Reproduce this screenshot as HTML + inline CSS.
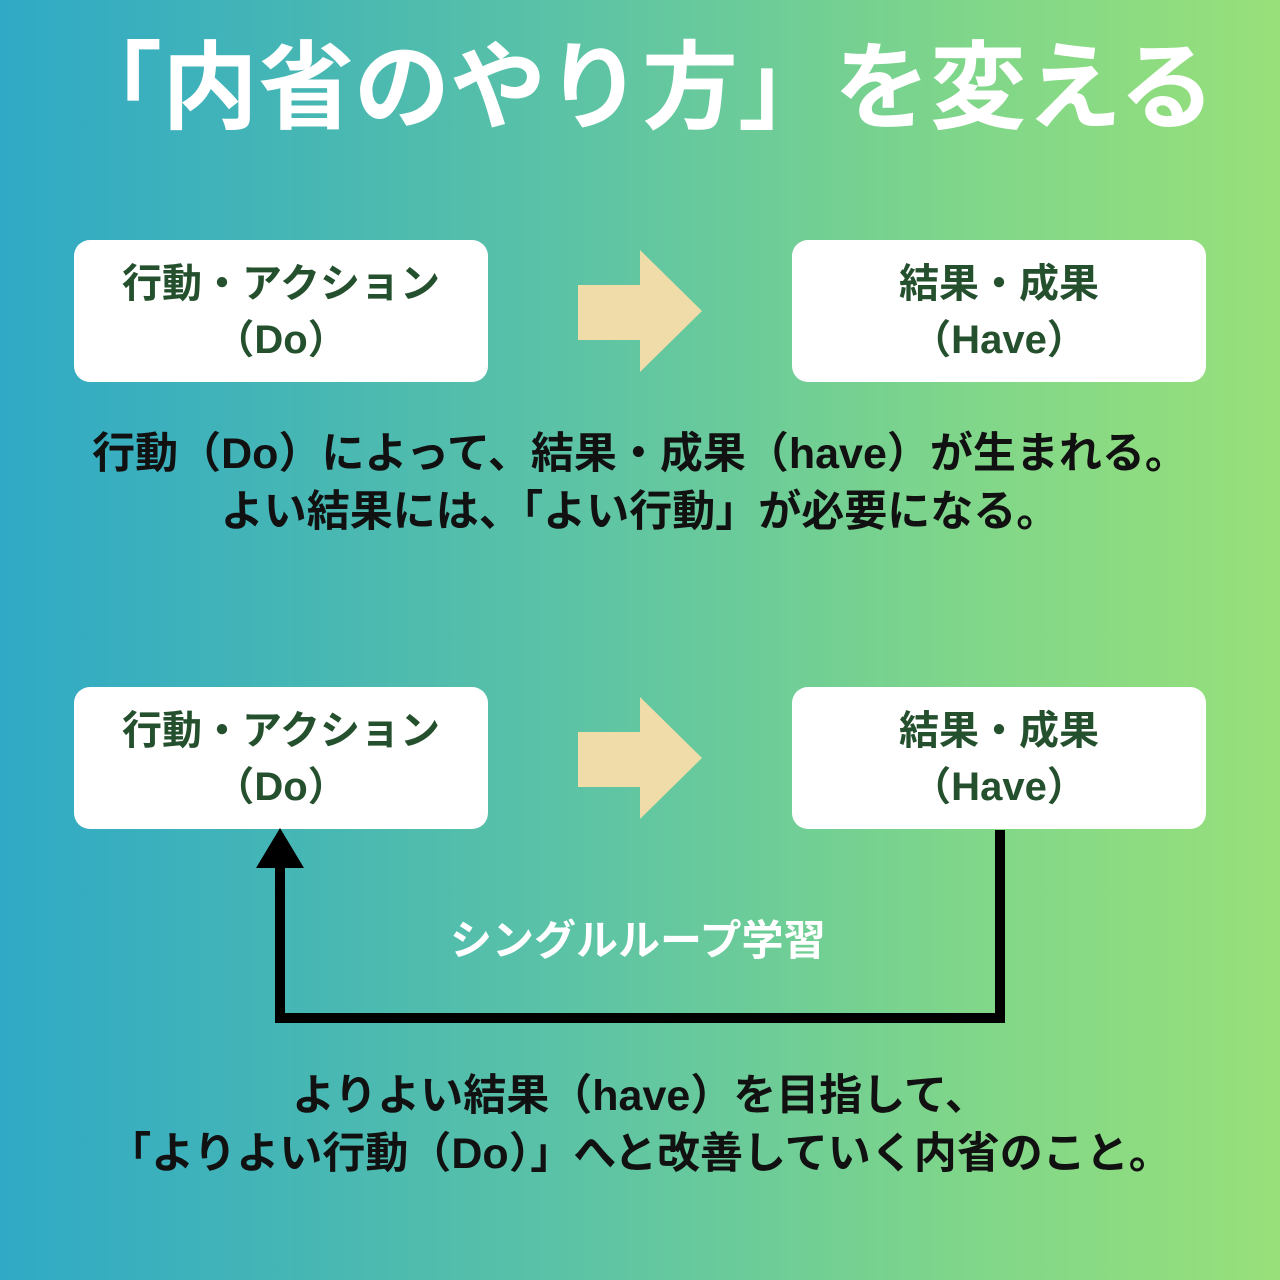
<!DOCTYPE html>
<html><head><meta charset="utf-8"><style>
html,body{margin:0;padding:0}
body{width:1280px;height:1280px;position:relative;overflow:hidden;
background:linear-gradient(90deg,#2fa9c6 0%,#5cc3a5 45%,#7fd68a 75%,#98e07a 100%);
font-family:"Liberation Sans","Noto Sans CJK JP",sans-serif;font-weight:bold}
.t{position:absolute;white-space:nowrap}
.box{position:absolute;width:414px;height:142px;background:#fff;border-radius:16px;color:#24502e;font-size:40px;text-align:center;line-height:56px;box-sizing:border-box;padding-top:16px}
.c{left:0;width:1280px;text-align:center}
</style></head><body>
<div class="t" style="left:66px;top:24px;font-size:96px;color:#fff;letter-spacing:0px;line-height:130px">「内省のやり方」を変える</div>

<div class="box" style="left:74px;top:240px">行動・アクション<br>（Do）</div>
<div class="box" style="left:792px;top:240px">結果・成果<br>（Have）</div>
<div class="box" style="left:74px;top:687px">行動・アクション<br>（Do）</div>
<div class="box" style="left:792px;top:687px">結果・成果<br>（Have）</div>

<svg class="t" style="left:0;top:0" width="1280" height="1280">
<polygon points="578,285 640,285 640,250 702,311 640,372 640,340 578,340" fill="#efdca8"/>
<polygon points="578,732 640,732 640,697 702,758 640,819 640,787 578,787" fill="#efdca8"/>
<polyline points="1000,830 1000,1018 280,1018 280,860" fill="none" stroke="#000" stroke-width="10"/>
<polygon points="280,828 256,868 304,868" fill="#000"/>
</svg>

<div class="t c" style="top:425px;font-size:43px;line-height:58px;color:#111">行動（Do）によって、結果・成果（have）が生まれる。<br>よい結果には、「よい行動」が必要になる。</div>
<div class="t" style="left:450px;top:916px;font-size:42px;color:#fff;line-height:50px">シングルループ学習</div>
<div class="t c" style="top:1067px;font-size:43px;line-height:58px;color:#111">よりよい結果（have）を目指して、<br>「よりよい行動（Do）」へと改善していく内省のこと。</div>
</body></html>
